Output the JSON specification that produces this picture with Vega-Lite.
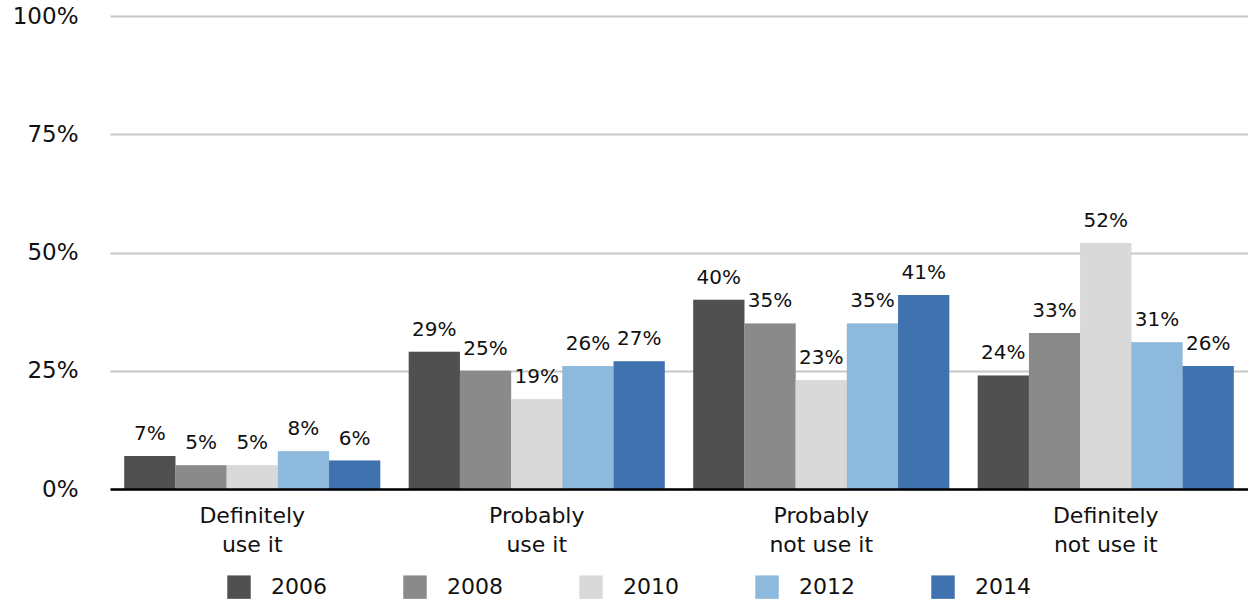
{
  "$schema": "https://vega.github.io/schema/vega-lite/v6.json",
  "width": 1138,
  "height": 473,
  "autosize": {"type": "none"},
  "padding": {"left": 110, "top": 16, "right": 0, "bottom": 111},
  "background": "white",
  "config": {
    "font": "DejaVu Sans",
    "view": {"stroke": null}
  },
  "data": {
    "values": [
      {"answer": "Definitely use it", "year": "2006", "pct": 7},
      {"answer": "Definitely use it", "year": "2008", "pct": 5},
      {"answer": "Definitely use it", "year": "2010", "pct": 5},
      {"answer": "Definitely use it", "year": "2012", "pct": 8},
      {"answer": "Definitely use it", "year": "2014", "pct": 6},
      {"answer": "Probably use it", "year": "2006", "pct": 29},
      {"answer": "Probably use it", "year": "2008", "pct": 25},
      {"answer": "Probably use it", "year": "2010", "pct": 19},
      {"answer": "Probably use it", "year": "2012", "pct": 26},
      {"answer": "Probably use it", "year": "2014", "pct": 27},
      {"answer": "Probably not use it", "year": "2006", "pct": 40},
      {"answer": "Probably not use it", "year": "2008", "pct": 35},
      {"answer": "Probably not use it", "year": "2010", "pct": 23},
      {"answer": "Probably not use it", "year": "2012", "pct": 35},
      {"answer": "Probably not use it", "year": "2014", "pct": 41},
      {"answer": "Definitely not use it", "year": "2006", "pct": 24},
      {"answer": "Definitely not use it", "year": "2008", "pct": 33},
      {"answer": "Definitely not use it", "year": "2010", "pct": 52},
      {"answer": "Definitely not use it", "year": "2012", "pct": 31},
      {"answer": "Definitely not use it", "year": "2014", "pct": 26}
    ]
  },
  "encoding": {
    "x": {
      "field": "answer",
      "type": "nominal",
      "sort": null,
      "scale": {"paddingInner": 0.1, "paddingOuter": 0.05},
      "axis": {
        "title": null,
        "labelAngle": 0,
        "labelFontSize": 22,
        "labelColor": "#111111",
        "labelLineHeight": 29,
        "labelPadding": 16,
        "labelBaseline": "top",
        "ticks": false,
        "domainColor": "#000000",
        "domainWidth": 2.5,
        "zindex": 2,
        "labelExpr": "[slice(datum.value, 0, indexof(datum.value, ' ')), slice(datum.value, indexof(datum.value, ' ') + 1)]"
      }
    },
    "xOffset": {"field": "year", "type": "nominal", "scale": {"paddingInner": 0}},
    "y": {
      "field": "pct",
      "type": "quantitative",
      "scale": {"domain": [0, 100], "nice": false},
      "axis": {
        "title": null,
        "values": [0, 25, 50, 75, 100],
        "labelExpr": "datum.value + '%'",
        "labelFontSize": 23,
        "labelColor": "#111111",
        "labelPadding": 32,
        "ticks": false,
        "domain": false,
        "gridColor": "#c8c8c8",
        "gridWidth": 2
      }
    }
  },
  "layer": [
    {
      "mark": {"type": "bar", "color": "#000000", "opacity": 0.13, "xOffset": 3},
      "encoding": {}
    },
    {
      "mark": {"type": "bar"},
      "encoding": {
        "color": {
          "field": "year",
          "type": "nominal",
          "scale": {
            "domain": ["2006", "2008", "2010", "2012", "2014"],
            "range": ["#505050", "#8a8a8a", "#d9d9d9", "#8db9dd", "#3f72ae"]
          },
          "legend": {
            "title": null,
            "orient": "none",
            "legendX": 117,
            "legendY": 559,
            "direction": "horizontal",
            "columns": 5,
            "symbolType": "square",
            "symbolSize": 550,
            "symbolStrokeWidth": 0,
            "labelFontSize": 22,
            "labelColor": "#111111",
            "labelOffset": 20,
            "columnPadding": 76,
            "gridAlign": "all"
          }
        }
      }
    },
    {
      "mark": {
        "type": "text",
        "baseline": "bottom",
        "dy": -12,
        "fontSize": 20,
        "color": "#111111",
        "text": {"expr": "datum.pct + '%'"}
      },
      "encoding": {
        "detail": {"field": "year"}
      }
    }
  ]
}
